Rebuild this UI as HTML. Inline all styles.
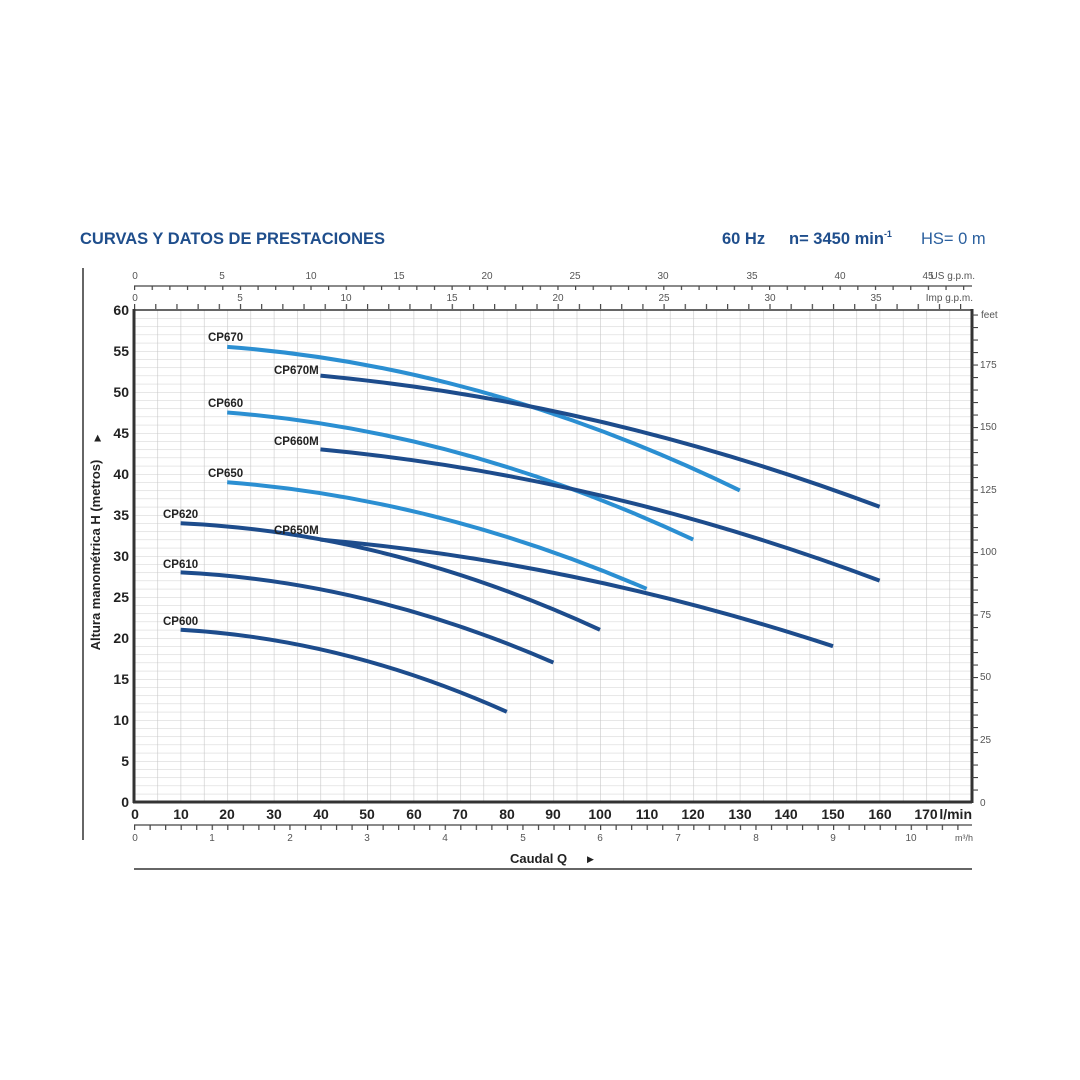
<!DOCTYPE html>
<html><head><meta charset="utf-8"><style>
html,body{margin:0;padding:0;background:#fff;}
svg{display:block;}
</style></head><body>
<svg width="1080" height="1080" viewBox="0 0 1080 1080" xmlns="http://www.w3.org/2000/svg" font-family="Liberation Sans, sans-serif">
<defs>
<pattern id="gv" patternUnits="userSpaceOnUse" x="134" y="0" width="23.3" height="10"><line x1="0" y1="0" x2="0" y2="10" stroke="#c8c8c8" stroke-width="1.2"/></pattern>
<pattern id="gh" patternUnits="userSpaceOnUse" x="0" y="310" width="10" height="8.2"><line x1="0" y1="0" x2="10" y2="0" stroke="#cfcfcf" stroke-width="1"/></pattern>
<pattern id="tus" patternUnits="userSpaceOnUse" x="134" y="0" width="17.64" height="10"><line x1="0.6" y1="0" x2="0.6" y2="10" stroke="#444" stroke-width="1.2"/></pattern>
<pattern id="timp" patternUnits="userSpaceOnUse" x="134" y="0" width="21.18" height="10"><line x1="0.6" y1="0" x2="0.6" y2="10" stroke="#444" stroke-width="1.2"/></pattern>
<pattern id="tm3" patternUnits="userSpaceOnUse" x="134" y="0" width="15.534" height="10"><line x1="0.6" y1="0" x2="0.6" y2="10" stroke="#444" stroke-width="1.2"/></pattern>
<pattern id="tft" patternUnits="userSpaceOnUse" x="0" y="802" width="10" height="12.5"><line x1="0" y1="0.5" x2="10" y2="0.5" stroke="#444" stroke-width="1.2"/></pattern>
</defs>

<text x="80" y="244" font-size="16.5" font-weight="bold" fill="#1f4e8c">CURVAS Y DATOS DE PRESTACIONES</text>
<text x="722" y="244" font-size="16.5" font-weight="bold" fill="#1f4e8c">60 Hz</text>
<text x="789" y="244" font-size="16.5" font-weight="bold" fill="#1f4e8c">n= 3450 min<tspan font-size="9" dy="-7">-1</tspan></text>
<text x="921" y="244" font-size="16.5" fill="#2a5f9e">HS= 0 m</text>

<line x1="83" y1="268" x2="83" y2="840" stroke="#333" stroke-width="1.5"/>

<!-- grid -->
<rect x="134" y="310" width="838" height="492" fill="url(#gh)"/>
<rect x="134" y="310" width="838" height="492" fill="url(#gv)"/>
<rect x="134" y="310" width="838" height="492" fill="none" stroke="#333" stroke-width="1.5"/>
<line x1="134" y1="309" x2="134" y2="803" stroke="#333" stroke-width="3"/>
<line x1="133" y1="802" x2="972" y2="802" stroke="#333" stroke-width="3"/>
<line x1="972" y1="309" x2="972" y2="803" stroke="#333" stroke-width="3"/>

<!-- top US gpm axis -->
<line x1="134" y1="286" x2="972" y2="286" stroke="#444" stroke-width="1.3"/>
<rect x="134" y="286" width="838" height="4" fill="url(#tus)"/>
<g font-size="10" fill="#555" text-anchor="middle">
<text x="135" y="279">0</text><text x="222" y="279">5</text><text x="311" y="279">10</text><text x="399" y="279">15</text><text x="487" y="279">20</text><text x="575" y="279">25</text><text x="663" y="279">30</text><text x="752" y="279">35</text><text x="840" y="279">40</text><text x="928" y="279">45</text>
</g>
<text x="975" y="279" font-size="10" fill="#555" text-anchor="end">US g.p.m.</text>
<!-- Imp gpm axis -->
<rect x="134" y="304" width="838" height="5" fill="url(#timp)"/>
<g font-size="10" fill="#555" text-anchor="middle">
<text x="135" y="301">0</text><text x="240" y="301">5</text><text x="346" y="301">10</text><text x="452" y="301">15</text><text x="558" y="301">20</text><text x="664" y="301">25</text><text x="770" y="301">30</text><text x="876" y="301">35</text>
</g>
<text x="973" y="301" font-size="10" fill="#555" text-anchor="end">Imp g.p.m.</text>

<!-- left y labels -->
<g font-size="14" font-weight="bold" fill="#222" text-anchor="end">
<text x="129" y="315">60</text><text x="129" y="356">55</text><text x="129" y="397">50</text><text x="129" y="438">45</text><text x="129" y="479">40</text><text x="129" y="520">35</text><text x="129" y="561">30</text><text x="129" y="602">25</text><text x="129" y="643">20</text><text x="129" y="684">15</text><text x="129" y="725">10</text><text x="129" y="766">5</text><text x="129" y="807">0</text>
</g>
<text transform="translate(100,555) rotate(-90)" font-size="13" font-weight="bold" fill="#222" text-anchor="middle">Altura manométrica H (metros)</text>
<text transform="translate(100,438) rotate(-90)" font-size="9" fill="#222" text-anchor="middle">▶</text>

<!-- right feet axis -->
<rect x="972" y="313" width="6" height="489" fill="url(#tft)"/>
<g font-size="10" fill="#555">
<text x="981" y="318">feet</text><text x="980" y="368">175</text><text x="980" y="430">150</text><text x="980" y="493">125</text><text x="980" y="555">100</text><text x="980" y="618">75</text><text x="980" y="680">50</text><text x="980" y="743">25</text><text x="980" y="806">0</text>
</g>

<!-- bottom l/min labels -->
<g font-size="14" font-weight="bold" fill="#222" text-anchor="middle">
<text x="135" y="819">0</text><text x="181" y="819">10</text><text x="227" y="819">20</text><text x="274" y="819">30</text><text x="321" y="819">40</text><text x="367" y="819">50</text><text x="414" y="819">60</text><text x="460" y="819">70</text><text x="507" y="819">80</text><text x="553" y="819">90</text><text x="600" y="819">100</text><text x="647" y="819">110</text><text x="693" y="819">120</text><text x="740" y="819">130</text><text x="786" y="819">140</text><text x="833" y="819">150</text><text x="880" y="819">160</text><text x="926" y="819">170</text>
</g>
<text x="972" y="819" font-size="14" font-weight="bold" fill="#222" text-anchor="end">l/min</text>

<!-- m3/h axis -->
<line x1="134" y1="825" x2="972" y2="825" stroke="#444" stroke-width="1.3"/>
<rect x="134" y="825" width="838" height="5" fill="url(#tm3)"/>
<g font-size="10" fill="#555" text-anchor="middle">
<text x="135" y="841">0</text><text x="212" y="841">1</text><text x="290" y="841">2</text><text x="367" y="841">3</text><text x="445" y="841">4</text><text x="523" y="841">5</text><text x="600" y="841">6</text><text x="678" y="841">7</text><text x="756" y="841">8</text><text x="833" y="841">9</text><text x="911" y="841">10</text>
</g>
<text x="973" y="841" font-size="9" fill="#555" text-anchor="end">m³/h</text>

<text x="510" y="863" font-size="13" font-weight="bold" fill="#222">Caudal  Q</text>
<text x="587" y="862" font-size="9" fill="#222">▶</text>
<line x1="134" y1="869" x2="972" y2="869" stroke="#333" stroke-width="1.5"/>

<!-- curves -->
<g fill="none" stroke-width="4" stroke-linecap="butt">
<path d="M227.2,346.9 Q483.5,366 739.8,490.4" stroke="#2b8fd2"/>
<path d="M320.4,375.6 Q600,401.8 879.6,506.8" stroke="#1d4c8c"/>
<path d="M227.2,412.5 Q460.2,430.6 693.2,539.6" stroke="#2b8fd2"/>
<path d="M320.4,449.4 Q600,475.6 879.6,580.6" stroke="#1d4c8c"/>
<path d="M227.2,482.2 Q436.9,498.6 646.6,588.8" stroke="#2b8fd2"/>
<path d="M320.4,539.6 Q576.7,562.1 833,646.2" stroke="#1d4c8c"/>
<path d="M180.6,523.2 Q390.3,532.9 600,629.8" stroke="#1d4c8c"/>
<path d="M180.6,572.4 Q367,581.4 553.4,662.6" stroke="#1d4c8c"/>
<path d="M180.6,629.8 Q343.7,638.9 506.8,711.8" stroke="#1d4c8c"/>
</g>
<g font-size="11.5" font-weight="bold" fill="#222">
<text x="208" y="341">CP670</text>
<text x="274" y="374">CP670M</text>
<text x="208" y="407">CP660</text>
<text x="274" y="445">CP660M</text>
<text x="208" y="477">CP650</text>
<text x="163" y="518">CP620</text>
<text x="274" y="534">CP650M</text>
<text x="163" y="568">CP610</text>
<text x="163" y="625">CP600</text>
</g>
</svg>
</body></html>
